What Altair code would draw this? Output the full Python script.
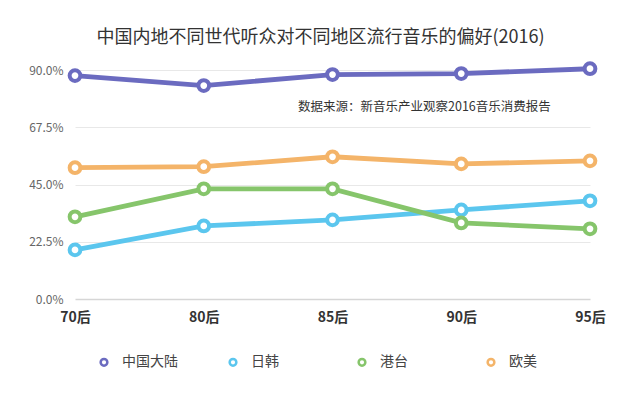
import altair as alt
import pandas as pd

generations = ["70后", "80后", "85后", "90后", "95后"]
regions = ["中国大陆", "日韩", "港台", "欧美"]
colors = ["#6b6bc0", "#5bc6ee", "#86c56b", "#f4b469"]
mainland = [87.8, 83.9, 88.2, 88.6, 90.5]
jpkr = [19.3, 28.7, 31.1, 35.0, 38.6]
hktw = [32.3, 43.3, 43.3, 29.9, 27.6]
west = [51.6, 52.0, 55.9, 53.1, 54.3]
y_ticks = [0, 22.5, 45, 67.5, 90]
title_text = "中国内地不同世代听众对不同地区流行音乐的偏好(2016)"
source_text = "数据来源：新音乐产业观察2016音乐消费报告"

rows = []
for reg, vals in zip(regions, [mainland, jpkr, hktw, west]):
    for g, v in zip(generations, vals):
        rows.append({"世代": g, "地区": reg, "比例": v})
df = pd.DataFrame(rows)

font = "Noto Sans CJK SC"

x = alt.X("世代:N", sort=generations, scale=alt.Scale(type="point", padding=0),
          axis=alt.Axis(title=None, labelAngle=0, labelFontSize=14, labelFontWeight="bold",
                        labelColor="#333333", labelFont=font, domain=False, ticks=False,
                        labelPadding=11, grid=False))
y = alt.Y("比例:Q", scale=alt.Scale(domain=[0, 90], nice=False),
          axis=alt.Axis(title=None, values=y_ticks, labelExpr="format(datum.value, '.1f') + '%'",
                        labelFontSize=12, labelColor="#666666", labelFont=font,
                        domain=False, ticks=False, labelPadding=12,
                        gridColor={"condition": {"test": "datum.value === 0", "value": "#d6d6d6"},
                                   "value": "#e8e8e8"},
                        gridWidth={"condition": {"test": "datum.value === 0", "value": 1.6},
                                   "value": 1}))
color = alt.Color("地区:N", sort=regions, scale=alt.Scale(domain=regions, range=colors),
                  legend=alt.Legend(title=None, orient="none", legendX=22, legendY=285,
                                    direction="horizontal", columns=4, gridAlign="all",
                                    columnPadding=46, symbolType="circle", symbolSize=45,
                                    symbolStrokeWidth=2.5, symbolFillColor="white",
                                    labelFontSize=14, labelColor="#444444", labelFont=font,
                                    labelOffset=11))

base = alt.Chart(df)
lines = base.mark_line(strokeWidth=4.8, clip=False).encode(x=x, y=y, color=color,
                                                            detail="地区:N")
points = base.mark_point(filled=False, fill="white", fillOpacity=1, size=115,
                         strokeWidth=4, opacity=1, clip=False).encode(
    x=x, y=y, color=alt.Color("地区:N", sort=regions,
                              scale=alt.Scale(domain=regions, range=colors), legend=None))

src = alt.Chart(pd.DataFrame({"t": [source_text]})).mark_text(
    align="left", baseline="middle", fontSize=12.5, color="#333333", font=font
).encode(x=alt.value(223), y=alt.value(37), text="t:N")

chart = alt.layer(lines, points, src).properties(
    width=515, height=229,
    background="white",
    title=alt.TitleParams(title_text, fontSize=18, fontWeight="normal", color="#333333",
                          font=font, anchor="middle", offset=8, dx=-12),
    autosize=alt.AutoSizeParams(type="none"),
    padding={"left": 67, "top": 62, "right": 42, "bottom": 85},
).configure_view(strokeWidth=0, stroke="transparent")

chart.save("out.html", embed_options={"renderer": "svg", "actions": False})
